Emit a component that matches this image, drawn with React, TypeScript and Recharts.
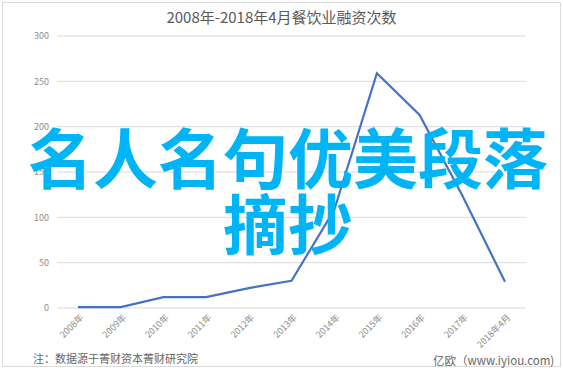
import React from "react";
import {
  LineChart,
  Line,
  XAxis,
  YAxis,
  CartesianGrid,
} from "recharts";

const years = [
  "2008年",
  "2009年",
  "2010年",
  "2011年",
  "2012年",
  "2013年",
  "2014年",
  "2015年",
  "2016年",
  "2017年",
  "2018年4月",
];
const counts = [1, 1, 12, 12, 22, 30, 108, 259, 213, 124, 29];
const yTicks = [0, 50, 100, 150, 200, 250, 300];

const data = years.map((name, i) => ({ name, value: counts[i] }));

const FONT = "'Noto Sans CJK SC', 'Noto Sans', sans-serif";

const RotatedTick = (props: any) => {
  const { x, y, payload } = props;
  return (
    <g transform={`translate(${x + 4},${y})`}>
      <text
        transform="rotate(-45)"
        textAnchor="end"
        fontSize={9}
        fill="#8c8c8c"
        fontFamily={FONT}
        dy={3}
      >
        {payload.value}
      </text>
    </g>
  );
};

const App = () => {
  return (
    <div
      style={{
        position: "fixed",
        left: 0,
        top: 0,
        width: 563,
        height: 370,
        background: "#fff",
        fontFamily: FONT,
      }}
    >
      <div
        style={{
          position: "absolute",
          left: 2,
          top: 2,
          width: 557,
          height: 363,
          border: "1px solid #dcdcdc",
        }}
      />
      <div
        style={{
          position: "absolute",
          left: 0,
          top: 7,
          width: 563,
          textAlign: "center",
          fontSize: 15,
          color: "#595959",
          lineHeight: "20px",
        }}
      >
        2008年-2018年4月餐饮业融资次数
      </div>
      <div style={{ position: "absolute", left: 0, top: 0 }}>
        <LineChart
          width={563}
          height={370}
          data={data}
          margin={{ top: 36, right: 37, left: 0, bottom: 0 }}
        >
          <CartesianGrid vertical={false} stroke="#d9d9d9" />
          <XAxis
            dataKey="name"
            axisLine={false}
            tickLine={false}
            interval={0}
            height={62}
            padding={{ left: 21, right: 21 }}
            tick={<RotatedTick />}
          />
          <YAxis
            width={57}
            domain={[0, 300]}
            ticks={yTicks}
            axisLine={false}
            tickLine={false}
            tick={{ fontSize: 9, fill: "#8c8c8c", fontFamily: FONT }}
          />
          <Line
            type="linear"
            dataKey="value"
            stroke="#4472c4"
            strokeWidth={2.2}
            dot={false}
            isAnimationActive={false}
          />
        </LineChart>
      </div>
      <div
        style={{
          position: "absolute",
          left: 33,
          top: 351,
          fontSize: 11,
          color: "#666",
          lineHeight: "15px",
        }}
      >
        注：数据源于菁财资本菁财研究院
      </div>
      <div
        style={{
          position: "absolute",
          left: 433,
          top: 353,
          fontSize: 11.5,
          color: "#666",
          lineHeight: "15px",
          whiteSpace: "nowrap",
        }}
      >
        亿欧（www.iyiou.com)
      </div>
      <div
        style={{
          position: "absolute",
          left: 26,
          top: 122,
          width: 524,
          textAlign: "center",
          fontSize: 65,
          fontWeight: 700,
          color: "#00b4f5",
          lineHeight: "66px",
          pointerEvents: "none",
        }}
      >
        名人名句优美段落
        <br />
        摘抄
      </div>
    </div>
  );
};

export default App;
